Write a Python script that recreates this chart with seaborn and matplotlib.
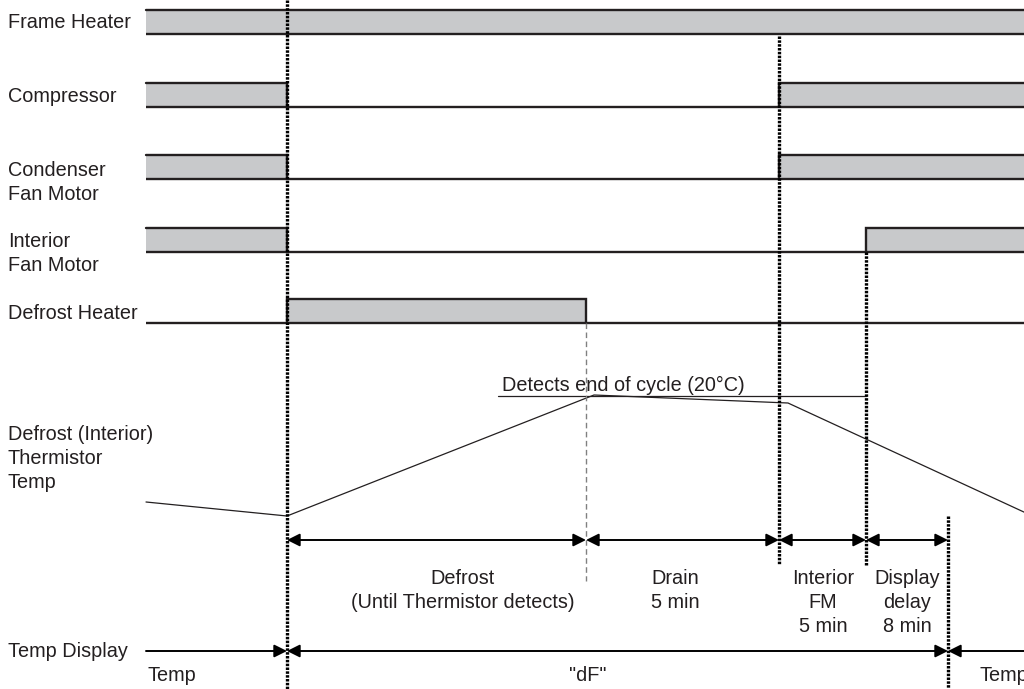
import numpy as np
import pandas as pd
import seaborn as sns
import matplotlib.pyplot as plt

# ---- data (diagram units, x = time along the cycle) ----
signals = ["Frame Heater", "Compressor", "Condenser\nFan Motor",
           "Interior\nFan Motor", "Defrost Heater"]
on_periods = [
    [(146, 1024)],
    [(146, 287), (779, 1024)],
    [(146, 287), (779, 1024)],
    [(146, 287), (866, 1024)],
    [(287, 586)],
]
therm_t = [146, 287, 594, 788, 1026]
therm_v = [502, 516, 395, 403, 513]
detect_level = 396

phase_bounds = [287, 586, 779, 866, 948]
phase_labels = ["Defrost\n(Until Thermistor detects)", "Drain\n5 min",
                "Interior\nFM\n5 min", "Display\ndelay\n8 min"]
display_bounds = [146, 287, 948, 1030]
display_labels = ["Temp", "\"dF\"", "Temp"]

# ---- layout ----
t0, t1 = 146, 1024
row_bottom = [34, 107, 179, 252, 323]
row_h = 24
row_label_y = [28, 102, 176, 247, 319]
edge = "#231f20"
fill = "#c8c9cb"
fs = 14.3

sns.set_theme(style="white")
plt.rcParams["font.family"] = ["Liberation Sans", "DejaVu Sans"]

fig = plt.figure(figsize=(10.24, 6.89), dpi=100)
ax = fig.add_axes([0, 0, 1, 1])
ax.set_xlim(0, 1024)
ax.set_ylim(689, 0)
ax.axis("off")


def label(x, y, s, ha="left", step=24):
    for i, line in enumerate(s.split("\n")):
        ax.text(x, y + i * step, line, ha=ha, va="baseline", fontsize=fs, color=edge)


# signal rows
for name, periods, yb, ly in zip(signals, on_periods, row_bottom, row_label_y):
    label(8, ly, name)
    yt = yb - row_h
    ax.plot([t0, t1], [yb, yb], color=edge, lw=1.7, solid_capstyle="butt")
    for a, b in periods:
        ax.fill_between([a, b], yt, yb, color=fill, lw=0)
        xs, ys = [a, a, b, b], [yb, yt, yt, yb]
        if a <= t0:
            xs, ys = xs[1:], ys[1:]
        if b >= t1:
            xs, ys = xs[:-1], ys[:-1]
        ax.plot(xs, ys, color=edge, lw=1.7, solid_joinstyle="miter")

# thermistor temperature
label(8, 440, "Defrost (Interior)\nThermistor\nTemp")
therm = pd.DataFrame({"t": therm_t, "v": therm_v})
sns.lineplot(data=therm, x="t", y="v", ax=ax, color=edge, lw=0.9,
             estimator=None, sort=False)
ax.plot([498, 866], [detect_level, detect_level], color=edge, lw=0.9)
ax.text(502, 391, "Detects end of cycle (20°C)", fontsize=fs, color=edge, va="baseline")
ax.set_xlim(0, 1024)
ax.set_ylim(689, 0)
ax.set_xlabel("")
ax.set_ylabel("")

# event lines
for x, ya, yb in [(287, 0, 689), (779, 36, 565), (866, 252, 565), (948, 516, 689)]:
    ax.plot([x, x], [ya, yb], color="black", lw=2.4, ls=(0, (0.75, 0.4)))
ax.plot([586, 586], [323, 581], color="#808080", lw=1.0, ls=(0, (4, 2.5)))

# phase arrows
aprops = dict(color="black", lw=1.4, mutation_scale=19, shrinkA=0, shrinkB=0)
phase_label_x = [463, 675, 823, 907]
for a, b, txt, lx in zip(phase_bounds[:-1], phase_bounds[1:], phase_labels, phase_label_x):
    ax.annotate("", xy=(b, 540), xytext=(a, 540), arrowprops=dict(arrowstyle="<|-|>", **aprops))
    label(lx, 584, txt, ha="center")

# temp display row
label(8, 657, "Temp Display")
styles = ["-|>", "<|-|>", "<|-"]
for a, b, st in zip(display_bounds[:-1], display_bounds[1:], styles):
    ax.annotate("", xy=(b, 651), xytext=(a, 651), arrowprops=dict(arrowstyle=st, **aprops),
                annotation_clip=False)
label(148, 681, display_labels[0])
label(588, 681, display_labels[1], ha="center")
label(980, 681, display_labels[2])

fig.savefig("out.png", dpi=100)
